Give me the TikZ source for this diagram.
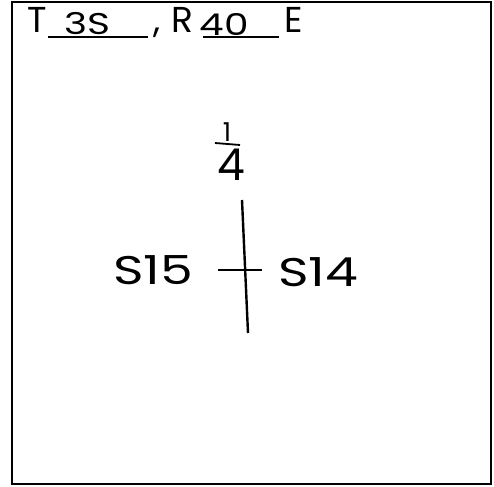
\documentclass[tikz,border=0pt]{standalone}
\usepackage{fontspec}
\setmainfont{Poppins}
\newfontfamily\wide[FakeStretch=1.3]{Poppins}
\begin{document}
\begin{tikzpicture}[x=1pt,y=-1pt,
  lbl/.style={inner sep=0pt,anchor=base west,font=\fontsize{36}{36}\selectfont},
  hand/.style={inner sep=0pt,font=\wide\fontsize{30}{30}\selectfont},
  big/.style={inner sep=0pt,font=\wide\fontsize{40}{40}\selectfont},
  rule/.style={line width=2pt}]
\useasboundingbox (0,0) rectangle (494,486);
\draw[line width=2.6pt] (12,2) rectangle (491,484);
% header
\node[lbl] (t) at (27,33) {T};
\coordinate (u1a) at (48,37); \coordinate (u1b) at (148,37);
\draw[rule] (u1a) -- (u1b);
\node[hand] (n3s) at (87,24) {3S};
\node[lbl] (comma) at (153,33) {,};
\node[lbl] (r) at (171,33) {R};
\coordinate (u2a) at (203,37); \coordinate (u2b) at (279,37);
\draw[rule] (u2a) -- (u2b);
\node[hand] (n40) at (224,24) {40};
\node[lbl] (e) at (284,33) {E};
% fraction
\node[inner sep=0pt,font=\fontsize{26}{26}\selectfont] (one) at (227,132) {1};
\coordinate (fa) at (215,143); \coordinate (fb) at (240,145);
\draw[line width=1.8pt] (fa) -- (fb);
\node[inner sep=0pt,font=\fontsize{44}{44}\selectfont] (four) at (231,165) {4};
% section corner
\coordinate (vt) at (242,200); \coordinate (vb) at (248,333);
\coordinate (hl) at (218,270); \coordinate (hr) at (262,270);
\draw[line width=2.4pt] (vt) -- (vb);
\draw[line width=2.4pt] (hl) -- (hr);
\node[big] (s15) at (153,270) {S15};
\node[big] (s14) at (318,272) {S14};
\end{tikzpicture}
\end{document}
